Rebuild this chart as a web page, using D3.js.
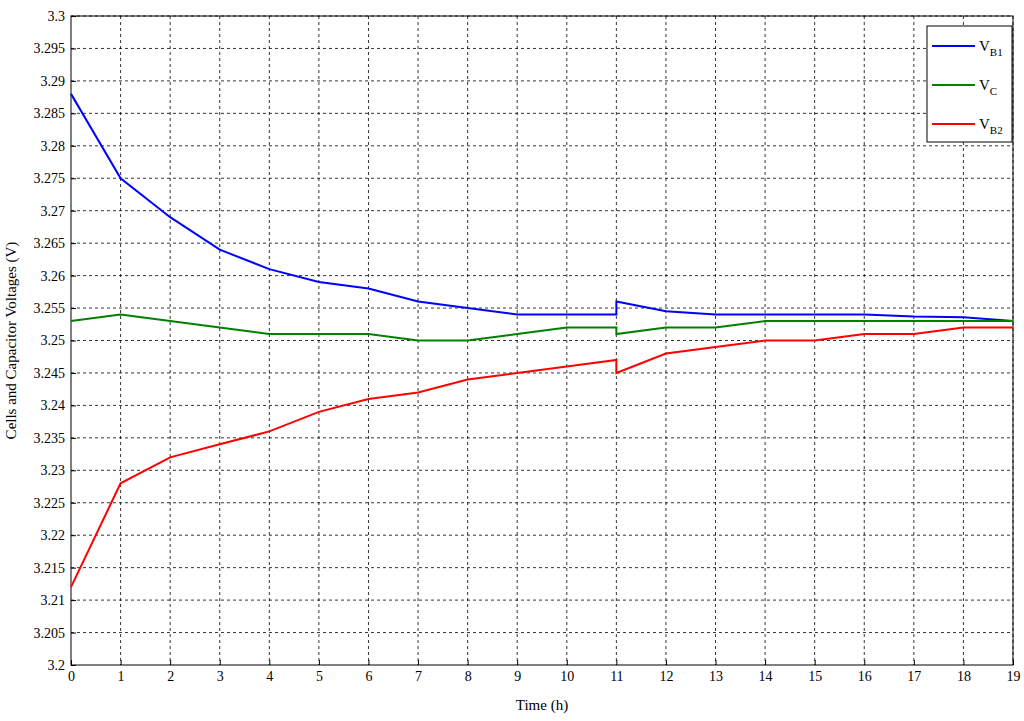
<!DOCTYPE html><html><head><meta charset="utf-8"><script src="https://cdn.jsdelivr.net/npm/d3@7"></script>
<style>body{margin:0;background:#fff}text{font-family:"Liberation Serif",serif}</style></head><body><svg id="c" width="1024" height="721"></svg>
<script>
const tB1=[0,1,2,3,4,5,6,7,8,9,10,11,11,12,13,14,15,16,17,18,19];
const vB1=[3.288,3.275,3.269,3.264,3.261,3.259,3.258,3.256,3.255,3.254,3.254,3.254,3.256,3.2545,3.254,3.254,3.254,3.254,3.2537,3.2536,3.253];
const vC=[3.253,3.254,3.253,3.252,3.251,3.251,3.251,3.250,3.250,3.251,3.252,3.252,3.251,3.252,3.252,3.253,3.253,3.253,3.253,3.253,3.253];
const vB2=[3.212,3.228,3.232,3.234,3.236,3.239,3.241,3.242,3.244,3.245,3.246,3.247,3.245,3.248,3.249,3.250,3.250,3.251,3.251,3.252,3.252];
const xTicks=d3.range(0,20);
const yTicks=d3.range(0,21).map(i=>+(3.2+i*0.005).toFixed(3));
const svg=d3.select("#c");
const L=71,R=1013,T=16,B=665;
const x=d3.scaleLinear().domain([0,19]).range([L,R]);
const y=d3.scaleLinear().domain([3.2,3.3]).range([B,T]);
const g=svg.append("g");
g.selectAll(".gx").data(xTicks.slice(1)).join("line").attr("x1",d=>x(d)).attr("x2",d=>x(d)).attr("y1",T).attr("y2",B).attr("stroke","#000").attr("stroke-width",0.8).attr("stroke-dasharray","3,3");
g.selectAll(".gy").data(yTicks.slice(1)).join("line").attr("y1",d=>y(d)).attr("y2",d=>y(d)).attr("x1",L).attr("x2",R).attr("stroke","#000").attr("stroke-width",0.8).attr("stroke-dasharray","3,3");
svg.append("rect").attr("x",L).attr("y",T).attr("width",R-L).attr("height",B-T).attr("fill","none").attr("stroke","#000");
const ax=svg.append("g").attr("transform",`translate(0,${B})`).call(d3.axisBottom(x).tickValues(xTicks).tickSize(-5).tickPadding(6).tickFormat(d3.format("d")));
const ay=svg.append("g").attr("transform",`translate(${L},0)`).call(d3.axisLeft(y).tickValues(yTicks).tickSize(-5).tickPadding(6).tickFormat(d=>String(d)));
[ax,ay].forEach(a=>{a.select(".domain").remove();a.selectAll("text").attr("font-size",14).attr("font-family","Liberation Serif").attr("fill","#000");});
const line=d3.line().x((d,i)=>x(tB1[i])).y(d=>y(d));
[[vB1,"#0000ff"],[vC,"#008000"],[vB2,"#ff0000"]].forEach(([v,c])=>svg.append("path").datum(v).attr("d",line).attr("fill","none").attr("stroke",c).attr("stroke-width",2));
svg.append("text").attr("x",(L+R)/2).attr("y",710).attr("text-anchor","middle").attr("font-size",15).text("Time (h)");
svg.append("text").attr("transform",`translate(16,${(T+B)/2}) rotate(-90)`).attr("text-anchor","middle").attr("font-size",15).text("Cells and Capacitor Voltages (V)");
const lg=svg.append("g");
lg.append("rect").attr("x",927).attr("y",26).attr("width",85).attr("height",116).attr("fill","#fff").attr("stroke","#000");
[["B1","#0000ff",46],["C","#008000",85],["B2","#ff0000",124]].forEach(([s,c,yy])=>{
lg.append("line").attr("x1",932).attr("x2",975).attr("y1",yy).attr("y2",yy).attr("stroke",c).attr("stroke-width",2);
const t=lg.append("text").attr("x",979).attr("y",yy+5).attr("font-size",15).text("V");
t.append("tspan").attr("dy",5).attr("font-size",11).text(s);});
</script></body></html>
